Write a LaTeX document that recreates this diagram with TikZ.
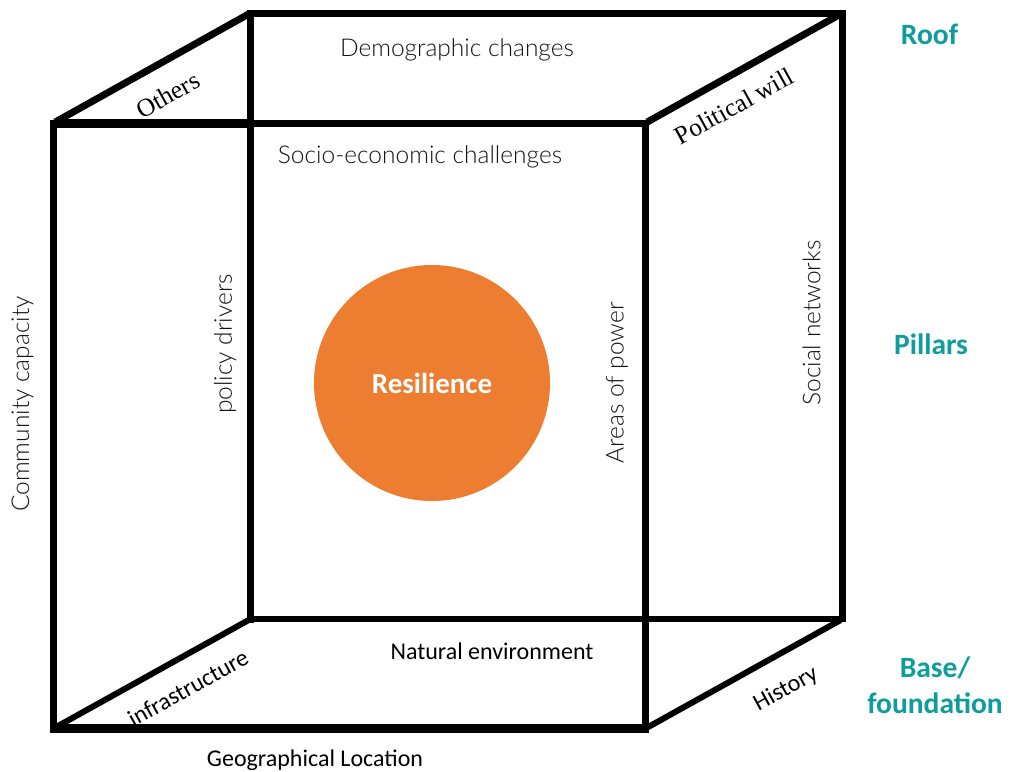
\documentclass[tikz,border=0pt]{standalone}
\usepackage{fontspec}
\setmainfont{Carlito}
\newfontfamily\thinf{Lato Light}
\newfontfamily\serf{Liberation Serif}
\definecolor{teall}{HTML}{0E9C9C}
\definecolor{orng}{HTML}{ED7D31}
\definecolor{thinc}{HTML}{141414}
\tikzset{
  edge/.style={line width=#1, black, line cap=rect},
  depth/.style={line width=#1, black, line cap=butt, shorten <=2pt, shorten >=2pt},
  thinlabel/.style={font=\thinf\fontsize{24.5}{28}\selectfont, text=thinc, inner sep=0pt},
  carlabel/.style={font=\fontsize{24}{28}\selectfont, text=black, inner sep=0pt},
  serlabel/.style={font=\serf\fontsize{25.5}{29}\selectfont, text=black, inner sep=0pt},
  tier/.style={font=\bfseries\fontsize{29.5}{36}\selectfont, text=teall, inner sep=0pt, align=center},
}
\begin{document}
\begin{tikzpicture}[x=1pt,y=-1pt]
\useasboundingbox (0,0) rectangle (1011,771);
\coordinate (ftl) at (53.5,123);
\coordinate (ftm) at (250.5,123);
\coordinate (ftr) at (645.5,123);
\coordinate (fbl) at (53.5,728.5);
\coordinate (fbr) at (645.5,728.5);
\coordinate (btl) at (250.5,13);
\coordinate (btr) at (842.5,13);
\coordinate (bbl) at (250.5,619);
\coordinate (bbr) at (842.5,619);
% back square
\draw[edge=7pt] (btl) -- (btr);
\draw[edge=7pt] (btl) -- (bbl);
\draw[edge=6.5pt] (btr) -- (bbr);
\draw[edge=6.5pt] (bbl) -- (bbr);
% depth edges
\draw[depth=7pt] (ftl) -- (btl);
\draw[depth=7pt] (ftr) -- (btr);
\draw[depth=6pt] (fbl) -- (bbl);
\draw[depth=6pt] (fbr) -- (bbr);
% front square
\draw[edge=9pt,line cap=butt] (ftl) -- (ftm);
\draw[edge=7pt] (ftm) -- (ftr);
\draw[edge=7pt] (ftl) -- (fbl);
\draw[edge=7pt] (ftr) -- (fbr);
\draw[edge=9pt,line cap=butt] ([xshift=-3.5pt]fbl) -- ([xshift=3.5pt]fbr);
% circle
\node[circle, fill=orng, minimum size=236pt, inner sep=0pt] (core) at (432,383) {};
\node[font=\bfseries\fontsize{29}{33}\selectfont, text=white, inner sep=0pt] (res) at (432,383) {Resilience};
% labels
\node[thinlabel] (demo) at (457,49.5) {Demographic changes};
\node[thinlabel] (socio) at (420,157) {Socio-economic challenges};
\node[thinlabel, rotate=90] (comm) at (22.5,404) {Community capacity};
\node[thinlabel, rotate=90] (pol) at (225,344) {policy drivers};
\node[thinlabel, rotate=90] (areas) at (617,383) {Areas of power};
\node[thinlabel, rotate=90] (soc) at (811.5,323) {Social networks};
\node[serlabel, rotate=29] (oth) at (168,95) {Others};
\node[serlabel, rotate=29] (polw) at (734,106) {Political will};
\node[carlabel, rotate=29] (infra) at (188,688) {infrastructure};
\node[carlabel] (nat) at (492,651) {Natural environment};
\node[carlabel, rotate=29] (hist) at (786,689) {History};
\node[carlabel] (geo) at (315,760) {Geographical Location};
% tiers
\node[tier] (roof) at (929.5,34) {Roof};
\node[tier] (pill) at (931,344) {Pillars};
\node[tier] (base) at (935,685.5) {Base/\\foundation};
\end{tikzpicture}
\end{document}
